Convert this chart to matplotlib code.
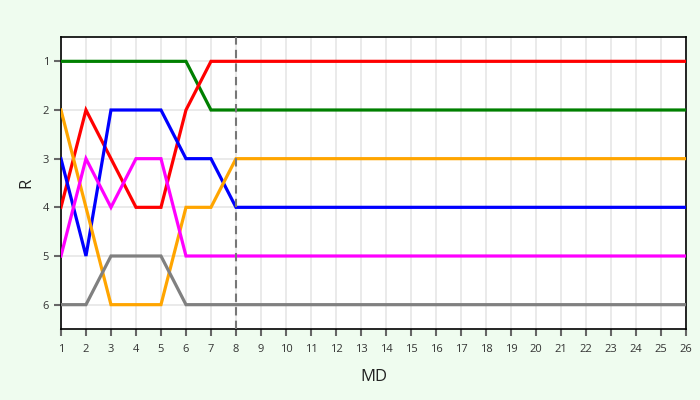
import matplotlib
matplotlib.use("Agg")
import matplotlib.pyplot as plt

md = list(range(1, 27))
green = [1, 1, 1, 1, 1, 1, 2, 2] + [2] * 18
red = [4, 2, 3, 4, 4, 2, 1, 1] + [1] * 18
blue = [3, 5, 2, 2, 2, 3, 3, 4] + [4] * 18
orange = [2, 4, 6, 6, 6, 4, 4, 3] + [3] * 18
magenta = [5, 3, 4, 3, 3, 5, 5, 5] + [5] * 18
gray = [6, 6, 5, 5, 5, 6, 6, 6] + [6] * 18
series = [("green", green), ("red", red), ("blue", blue),
          ("orange", orange), ("magenta", magenta), ("gray", gray)]
marker_x = 8
yticks = [1, 2, 3, 4, 5, 6]

plt.rcParams['font.family'] = ['Open Sans', 'DejaVu Sans']
bg = "#effcef"
fig = plt.figure(figsize=(7, 4), dpi=100, facecolor=bg)
ax = fig.add_axes([0.0871, 0.1775, 0.8929, 0.73])
ax.set_facecolor("white")

for c, vals in series:
    ax.plot(md, vals, color=c, lw=2.3, solid_joinstyle='miter', zorder=3)

ax.axvline(marker_x, color="#777777", lw=1.5, ls=(0, (4, 2.5)), zorder=4)

ax.set_xlim(1, 26)
ax.set_ylim(6.5, 0.5)
ax.set_xticks(md)
ax.set_yticks(yticks)
ax.grid(True, color="#e6e6e6", lw=1.2, zorder=0)
ax.set_axisbelow(True)
for s in ax.spines.values():
    s.set_color("black")
    s.set_linewidth(1.2)
ax.tick_params(axis='both', colors="#666666", labelcolor="#333333",
               labelsize=8, length=5, width=1.5, direction='out')
ax.tick_params(axis='x', pad=6)
ax.set_xlabel("MD", fontsize=12, color="#222222", labelpad=10)
ax.set_ylabel("R", fontsize=12, color="#222222", labelpad=6)

fig.savefig("out.png", dpi=100, facecolor=bg)
